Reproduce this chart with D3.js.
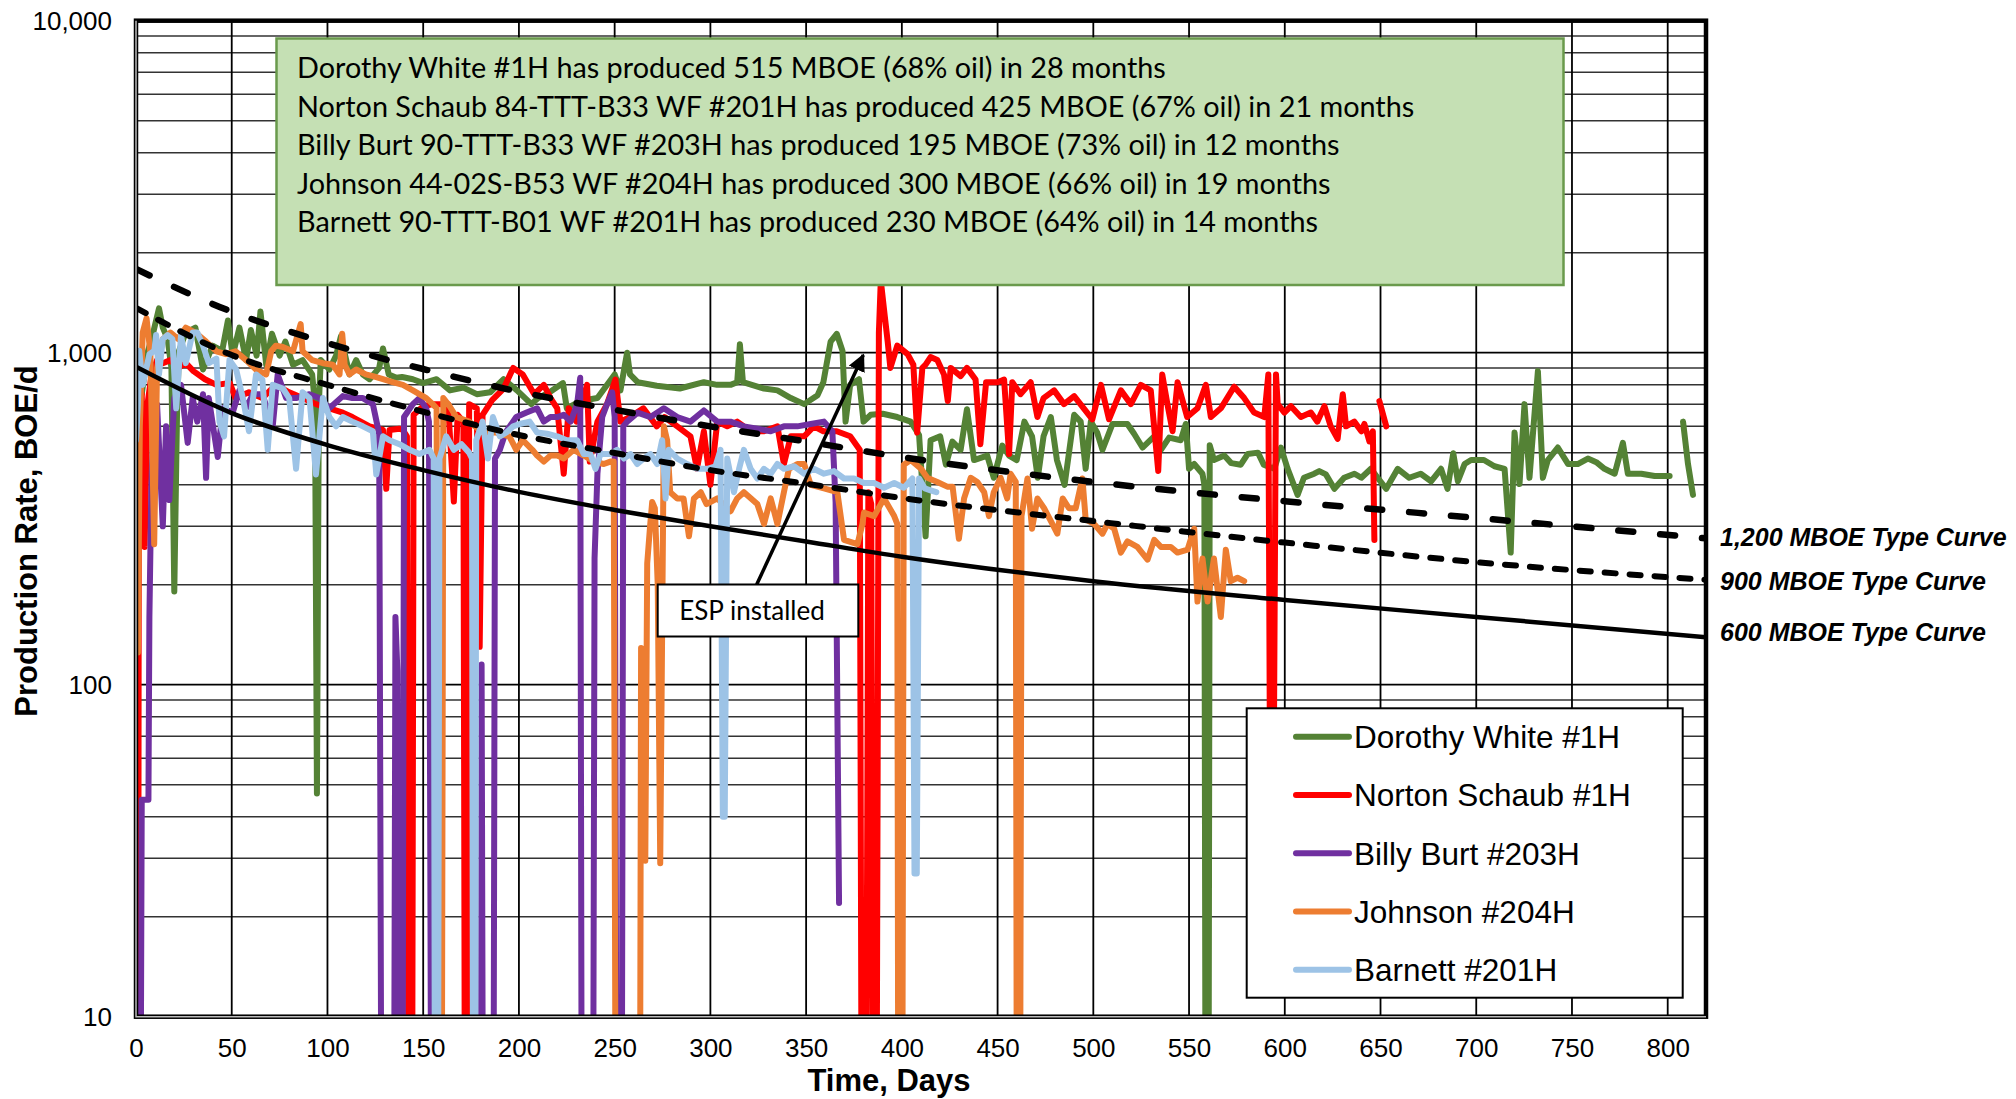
<!DOCTYPE html>
<html>
<head>
<meta charset="utf-8">
<script src="https://cdn.jsdelivr.net/npm/d3@7"></script>
<style>
  body { margin: 0; background: #fff; }
  svg { display: block; }
</style>
</head>
<body>
<svg width="2016" height="1099"></svg>
<script>
// ---- data: [day, BOE/d]; 1 = shut in (below axis), null = gap ----
const dorothyWhite = [[3,750],[6,1000],[9,1150],[12,1360],[14,1190],[16.5,1100],[18.5,900],[20,191],[21.5,700],[22.5,1013],[26,1150],[31,1190],[35,890],[40,1050],[45,1013],[48,1250],[50.5,980],[54,1190],[57.5,950],[60,1170],[63,980],[65,1330],[68,920],[71,1140],[75,980],[78,1080],[82,920],[87,950],[92,860],[93.5,700],[94.5,47],[95.5,700],[96.5,950],[101,890],[104.5,980],[107,1120],[111.5,860],[115,950],[118.5,860],[122,832],[127,900],[129,1030],[132,860],[136,840],[139,845],[144.6,832],[150,810],[157,832],[164,770],[171,785],[178,750],[185,760],[192,832],[199,770],[206.5,700],[210,730],[216,760],[223,810],[225,680],[232,715],[241,730],[250,860],[253,770],[256.5,1000],[258,860],[262,815],[272,795],[284,780],[296.6,815],[303.5,800],[310.5,800],[314,815],[315.4,1060],[317,815],[328,780],[335,770],[342,730],[349,700],[356,745],[359,815],[362.8,1080],[366,1140],[369,1013],[370.6,620],[373,800],[377.6,832],[380,620],[383.7,650],[390,655],[397.6,640],[404.6,620],[409,565],[412.4,280],[415,545],[420,560],[423,460],[426.4,540],[430.7,510],[434,676],[437.7,475],[444.6,490],[448,420],[452.5,525],[456,490],[460,475],[464,620],[468,560],[471,420],[474,560],[477.8,640],[481,475],[485,400],[490,650],[493.4,620],[496,447],[498.7,620],[502,575],[504.8,510],[510,610],[517.8,610],[521.3,570],[525.7,518],[531.8,560],[535.3,510],[539.6,555],[545.7,545],[548.3,610],[550,447],[552.7,462],[557,432],[558,400],[558.8,1],[560,1],[560.8,526],[563,475],[568.4,490],[572,465],[577,460],[580.6,495],[586,500],[589,460],[594.5,447],[598,518],[601.5,447],[606.7,373],[610,420],[615.4,432],[618,440],[621.5,430],[625.9,389],[631,420],[636.4,432],[640,420],[645,447],[648.5,420],[653,389],[659,447],[665,420],[671,432],[676.4,410],[681.6,447],[685,389],[688,498],[690.4,410],[693.9,462],[697.3,475],[704,475],[709.5,455],[714.8,447],[718,250],[720,575],[722.6,402],[725.2,700],[727.8,420],[732.2,880],[734.8,420],[737.4,475],[742.6,518],[748,462],[753,462],[758.3,480],[762.7,468],[767,447],[772.3,432],[776.6,535],[779.2,432],[786.2,432],[793.2,425],[801,425],[804,null],[808,620],[810.6,462],[813.2,373]];

const nortonSchaub = [[0.3,1],[1,1],[1.5,520],[3,750],[4.5,260],[6,700],[8,850],[11,950],[14,930],[18,950],[22,900],[26,930],[30,880],[36,832],[42,800],[49,810],[52,730],[59,760],[66,730],[73,800],[80,760],[87,730],[94,700],[101,680],[108,660],[113,640],[122,600],[129,585],[130.7,389],[132.4,585],[137.6,590],[139.4,585],[141.5,560],[142.5,1],[144,1],[145,650],[150,690],[155,700],[160,700],[163,700],[166,356],[168,650],[171,620],[172,1],[173,1],[174,700],[178,680],[179.5,130],[181,650],[186,720],[192,780],[197,900],[202,860],[208,750],[213,800],[216.5,730],[220,680],[223.4,432],[226,680],[230,620],[235.6,800],[237,470],[241,620],[246,700],[250.4,830],[253,620],[258,640],[265,680],[272,600],[276,640],[282.7,600],[289.6,560],[293,447],[296.6,580],[300,400],[303.6,620],[308.8,600],[314,620],[321,580],[328,580],[335,600],[338.4,462],[342,560],[349,560],[354,600],[359,580],[366,580],[373,560],[378,510],[379.3,1],[381,1],[382.5,380],[384,350],[385.3,1],[386.5,1],[388,1150],[389,1650],[391,1300],[392.6,1080],[394,900],[397.6,1050],[403,990],[406,920],[408,575],[410.7,900],[412.4,920],[415,970],[418.5,950],[422,860],[424,715],[425.5,900],[430.7,850],[434,900],[438.5,830],[441,530],[444,815],[450,815],[453.4,830],[456,495],[457.7,815],[462,750],[467.3,815],[470.8,640],[474,730],[479.5,770],[484.7,700],[490,740],[495,680],[499.5,630],[504,800],[508.2,630],[514.4,770],[519.6,700],[524.8,800],[530,770],[533.9,440],[536,860],[538.7,700],[541.4,580],[544,815],[549,640],[554.4,680],[558.8,800],[561.4,640],[566.6,680],[573.6,790],[578.8,730],[584,660],[589.3,640],[591.4,860],[592.6,20],[593.8,20],[595.4,860],[596.3,700],[599.8,660],[603.2,690],[608.4,640],[613.6,660],[617,620],[620.7,690],[624,600],[627.6,550],[630.3,750],[632,600],[636.3,620],[640,580],[641.6,610],[644.2,540],[646,580],[646.8,273],[648,null],[649.4,715],[653,600]];

const billyBurt = [[2,1],[3,45],[6.5,45],[7,160],[8,390],[9,620],[11,700],[14,300],[15.7,600],[17.4,360],[20,730],[23.5,800],[27,535],[29.6,730],[32,620],[35,750],[36.6,420],[38,730],[42.7,485],[45.3,680],[50.5,660],[54,770],[57.5,680],[61,750],[66,750],[71.4,600],[74,860],[78.4,730],[83.6,730],[90.6,750],[95.8,730],[101,680],[108,740],[113,730],[118.5,730],[123.7,700],[127,570],[128.5,1],[134.5,1],[135.5,160],[136.5,110],[137.5,1],[139,1],[140,640],[144.6,700],[148,730],[151.6,680],[153,620],[154.5,1],[180,1],[180.5,115],[181.5,1],[186.5,1],[187.5,480],[190,509],[193,575],[198.6,640],[204,660],[209.5,680],[213,620],[216.5,640],[220,640],[223.4,650],[227,620],[230.4,700],[232,840],[233,1],[238.5,1],[239.5,240],[241,432],[243.5,640],[246,700],[248.7,760],[250,640],[251.2,1],[253.5,1],[254.5,600],[256.5,620],[262,660],[268.7,640],[275.7,680],[282.7,640],[289.6,620],[296.6,670],[303.6,620],[310.5,620],[317.5,600],[324.5,590],[331.5,580],[338.4,600],[345.4,600],[352.4,610],[359.3,620],[363.7,580],[365.4,355],[367.2,22]];

const johnson = [[0,500],[1,125],[2,600],[3.5,1150],[5.5,1270],[7.5,1000],[9.5,265],[11,900],[14,1100],[18,1150],[22,1100],[26,1190],[31,1150],[36.6,1080],[42,1010],[47,990],[52,1010],[57.5,950],[62.7,890],[68,860],[70.6,1010],[73,1050],[76.7,1040],[82,1010],[86,1220],[87,1010],[92,950],[97.6,930],[102.8,920],[106.3,860],[107.7,1140],[109,920],[111.5,860],[115,890],[120,860],[123.7,850],[129,832],[134,815],[139.4,800],[144.6,770],[148,750],[151.6,730],[155,700],[157,680],[158.3,1],[159.5,1],[160.5,730],[163.8,690],[167.3,640],[174,620],[181,575],[188,575],[195,560],[198.6,510],[202,545],[207,510],[209.5,490],[213,470],[216.5,490],[220,490],[223.4,480],[228.6,510],[233.9,490],[239,470],[244.3,462],[247.8,470],[249.5,470],[250.8,1],[263,1],[263.8,129],[265,60],[266,29.5],[267,232],[268.5,300],[269.6,355],[271,340],[272.5,200],[273.8,29],[275,200],[275.7,600],[277.4,545],[279,380],[282.7,364],[286,364],[288.8,280],[291.4,364],[295,380],[298,350],[303.6,364],[310.5,333],[314,364],[317.5,380],[324.5,350],[328,305],[331.5,364],[335,305],[338.4,380],[341,447],[345.4,462],[349,462],[352.4,400],[359.3,390],[366.3,380],[369.8,273],[376.8,265],[379.4,305],[380.2,330],[385.5,322],[390.7,364],[396,322],[397.6,305],[398.3,1],[400,1],[401,460],[404.6,475],[410,447],[413.3,420],[418.5,408],[423.7,395],[426.5,395],[429.8,275],[432.5,364],[436,420],[439.4,408],[443,380],[445.5,322],[448,380],[451.6,420],[455,364],[456.8,432],[459.5,408],[460.2,1],[461.5,1],[462.5,322],[465.6,418],[468,295],[470.8,364],[474.3,340],[478.6,305],[481.2,285],[484,364],[487.3,340],[490.8,340],[494.3,418],[496,315],[500.4,305],[504.8,285],[507.4,305],[510.9,295],[514.4,250],[517.8,270],[523,260],[528.3,238],[531.8,273],[535.3,260],[540.5,260],[544,250],[549.2,255],[552.7,295],[554.4,178],[557,240],[559.7,178],[563,240],[566.6,160],[569.2,255],[571.8,205],[575.3,210],[578.8,205]];

const barnett = [[0,545],[1,700],[1.7,1013],[3.5,800],[7,990],[9.6,1013],[10.5,1130],[12,860],[14,1100],[16.5,1130],[19,1100],[21,680],[23.5,1130],[26,930],[29.6,1150],[32,1150],[35,1050],[38,930],[42,960],[43.6,620],[46,560],[48.8,950],[52.3,890],[55.8,730],[59,580],[62.7,860],[66,830],[68.8,510],[71.4,800],[76.7,780],[80,730],[83.6,447],[87,760],[90.6,730],[94,430],[97.6,730],[101,640],[104.5,600],[108,640],[113,620],[118.5,600],[123.7,580],[125.5,430],[129,560],[132.4,545],[137.6,530],[142.9,510],[148,495],[153.3,510],[155.5,480],[156.3,1],[157.5,1],[158.5,480],[162,560],[166,510],[170,530],[174,500],[175.5,480],[176.2,1],[177,1],[177.7,545],[181,620],[183.8,480],[186.4,640],[190,560],[193.4,575],[197,600],[200.4,610],[205.6,620],[209.5,575],[214.7,570],[220,560],[225,545],[230.4,545],[233.9,495],[237.4,495],[240,447],[242.6,495],[247.8,495],[251.3,510],[254.8,480],[258.3,495],[261.8,462],[265.2,480],[268.7,495],[272.2,462],[274.8,545],[276.6,364],[278.3,510],[282.7,480],[287.9,462],[293,447],[298.4,447],[302.7,455],[305.3,510],[306.5,40],[307.5,40],[308.8,480],[312.3,380],[315,447],[317.5,510],[321,447],[324.5,418],[328,447],[331.5,432],[335,462],[338.4,447],[343.7,455],[349,432],[354,447],[359.3,432],[364.6,440],[369.8,418],[375,418],[380.2,405],[385.5,405],[390.7,392],[396,405],[401,392],[405.5,418],[406.6,27],[407.8,27],[409,418],[412,390],[415,385],[418,380]];

// type curves
const typeDays = [0, 50, 100, 150, 200, 250, 300, 350, 400, 500, 600, 700, 820];
const tc1200 = [1787, 1329, 1069, 893, 763, 673, 600, 540, 485, 408, 357, 318, 276];
const tc900 = [1364, 984, 800, 664, 565, 499, 443, 403, 365, 311, 268, 234, 207];
const tc600 = [907, 658, 527, 443, 381, 336, 300, 270, 243, 205, 180, 160, 139];

const wellNames = ["Dorothy White #1H", "Norton Schaub #1H", "Billy Burt #203H", "Johnson #204H", "Barnett #201H"];
const wellColors = ["#548235", "#FF0000", "#7030A0", "#ED7D31", "#9DC3E6"];
const typeNames = ["1,200 MBOE Type Curve", "900 MBOE Type Curve", "600 MBOE Type Curve"];
const boxLines = [
  "Dorothy White #1H has produced 515 MBOE (68% oil) in 28 months",
  "Norton Schaub 84-TTT-B33 WF #201H has produced 425 MBOE (67% oil) in 21 months",
  "Billy Burt 90-TTT-B33 WF #203H has produced 195 MBOE (73% oil) in 12 months",
  "Johnson 44-02S-B53 WF #204H has produced 300 MBOE (66% oil) in 19 months",
  "Barnett 90-TTT-B01 WF #201H has produced 230 MBOE (64% oil) in 14 months"
];
const xTicks = d3.range(0, 801, 50);
const yTicks = [10, 100, 1000, 10000];

// ---- layout ----
var svg = d3.select("svg");
var plotL = 136, plotR = 1706, plotT = 20.7, plotB = 1016.7;

var x = d3.scaleLinear().domain([0, 820]).range([plotL, plotR]);
var y = d3.scaleLog().domain([10, 10000]).range([plotB, plotT]);

var defs = svg.append("defs");
defs.append("clipPath").attr("id", "plot")
  .append("rect").attr("x", plotL).attr("y", plotT)
  .attr("width", plotR - plotL).attr("height", plotB - plotT);

defs.append("marker")
  .attr("id", "arrow").attr("viewBox", "0 0 10 10")
  .attr("refX", 9).attr("refY", 5)
  .attr("markerWidth", 5).attr("markerHeight", 5)
  .attr("markerUnits", "strokeWidth")
  .attr("orient", "auto")
  .append("path").attr("d", "M0,0L10,5L0,10z").attr("fill", "#000");

// grid
var minor = [];
[10, 100, 1000].forEach(function (dec) {
  for (var k = 2; k <= 9; k++) minor.push(k * dec);
});
var grid = svg.append("g");
grid.selectAll(".hmin").data(minor).enter().append("line")
  .attr("x1", plotL).attr("x2", plotR)
  .attr("y1", d => y(d)).attr("y2", d => y(d))
  .attr("stroke", "#333").attr("stroke-width", 1.5);
grid.selectAll(".hmaj").data(yTicks).enter().append("line")
  .attr("x1", plotL).attr("x2", plotR)
  .attr("y1", d => y(d)).attr("y2", d => y(d))
  .attr("stroke", "#000").attr("stroke-width", 1.8);
grid.selectAll(".v").data(xTicks).enter().append("line")
  .attr("x1", d => x(d)).attr("x2", d => x(d))
  .attr("y1", plotT).attr("y2", plotB)
  .attr("stroke", "#000").attr("stroke-width", 1.8);

// wells
var wells = [dorothyWhite, nortonSchaub, billyBurt, johnson, barnett];
var line = d3.line()
  .defined(d => d[1] != null)
  .x(d => x(d[0]))
  .y(d => y(Math.max(d[1], 0.5)));

svg.append("g").attr("clip-path", "url(#plot)")
  .selectAll("path").data(wells).enter().append("path")
  .attr("d", line)
  .attr("fill", "none")
  .attr("stroke", (d, i) => wellColors[i])
  .attr("stroke-width", 6)
  .attr("stroke-linejoin", "round")
  .attr("stroke-linecap", "round");

// type curves
var tcLine = d3.line().curve(d3.curveMonotoneX)
  .x((d, i) => x(typeDays[i]))
  .y(d => y(d));
var tcStyle = [
  { dash: "15,27", w: 6.5 },
  { dash: "11,14", w: 6 },
  { dash: null, w: 4.5 }
];
svg.append("g").attr("clip-path", "url(#plot)")
  .selectAll("path").data([tc1200, tc900, tc600]).enter().append("path")
  .attr("d", tcLine)
  .attr("fill", "none")
  .attr("stroke", "#000")
  .attr("stroke-width", (d, i) => tcStyle[i].w)
  .attr("stroke-linecap", (d, i) => tcStyle[i].dash ? "round" : "butt")
  .attr("stroke-dasharray", (d, i) => tcStyle[i].dash);

// plot frame
svg.append("rect")
  .attr("x", plotL).attr("y", plotT)
  .attr("width", plotR - plotL).attr("height", plotB - plotT)
  .attr("fill", "none").attr("stroke", "#000").attr("stroke-width", 4.5);
svg.append("path")
  .attr("d", "M" + plotL + "," + plotT + "V" + plotB + "H" + plotR)
  .attr("fill", "none").attr("stroke", "#bbb").attr("stroke-width", 1.5);

// axes (labels only)
var yAxis = svg.append("g").attr("transform", "translate(" + plotL + ",0)")
  .call(d3.axisLeft(y).tickValues(yTicks).tickFormat(d3.format(",")).tickSize(0).tickPadding(24));
var xAxis = svg.append("g").attr("transform", "translate(0," + plotB + ")")
  .call(d3.axisBottom(x).tickValues(xTicks).tickSize(0).tickPadding(22));
[yAxis, xAxis].forEach(function (a) {
  a.select(".domain").remove();
  a.selectAll("text").attr("font-family", "'Liberation Sans', Arial, sans-serif")
    .attr("font-size", 26).attr("fill", "#000");
});

svg.append("text")
  .attr("x", 889).attr("y", 1091)
  .attr("text-anchor", "middle")
  .attr("font-family", "'Liberation Sans', Arial, sans-serif")
  .attr("font-size", 31).attr("font-weight", "bold")
  .text("Time, Days");
svg.append("text")
  .attr("transform", "translate(37,541) rotate(-90)")
  .attr("text-anchor", "middle")
  .attr("font-family", "'Liberation Sans', Arial, sans-serif")
  .attr("font-size", 31).attr("font-weight", "bold")
  .text("Production Rate, BOE/d");

// type curve labels
var tcLabelY = [546, 590, 641];
svg.selectAll(".tclab").data(typeNames).enter().append("text")
  .attr("x", 1720).attr("y", (d, i) => tcLabelY[i])
  .attr("font-family", "'Liberation Sans', Arial, sans-serif")
  .attr("font-size", 25).attr("font-weight", "bold").attr("font-style", "italic")
  .text(d => d);

// summary box
svg.append("rect")
  .attr("x", 276.5).attr("y", 38.5).attr("width", 1287).attr("height", 246.5)
  .attr("fill", "#C5E0B4").attr("stroke", "#6A9A4C").attr("stroke-width", 2.5);
svg.selectAll(".boxline").data(boxLines).enter().append("text")
  .attr("x", 297).attr("y", (d, i) => 68 + i * 38.6)
  .attr("dy", "0.35em")
  .attr("font-family", "Lato, 'Open Sans', sans-serif")
  .attr("font-size", 28.8).attr("fill", "#000")
  .text(d => d);

// ESP annotation
svg.append("line")
  .attr("x1", 756.7).attr("y1", 584.5)
  .attr("x2", 863.3).attr("y2", 355)
  .attr("stroke", "#000").attr("stroke-width", 3.5)
  .attr("marker-end", "url(#arrow)");
svg.append("rect")
  .attr("x", 657.7).attr("y", 584.5).attr("width", 200.6).attr("height", 52)
  .attr("fill", "#fff").attr("stroke", "#000").attr("stroke-width", 2);
svg.append("text")
  .attr("x", 752).attr("y", 611).attr("dy", "0.35em")
  .attr("text-anchor", "middle")
  .attr("font-family", "Lato, 'Open Sans', sans-serif")
  .attr("font-size", 26)
  .text("ESP installed");

// legend
var legend = svg.append("g");
legend.append("rect")
  .attr("x", 1246.7).attr("y", 708.3).attr("width", 436).attr("height", 289.4)
  .attr("fill", "#fff").attr("stroke", "#000").attr("stroke-width", 2);
var items = legend.selectAll(".item").data(wellNames).enter().append("g")
  .attr("transform", (d, i) => "translate(0," + (736.7 + i * 58.25) + ")");
items.append("line")
  .attr("x1", 1296).attr("x2", 1349)
  .attr("stroke", (d, i) => wellColors[i])
  .attr("stroke-width", 6).attr("stroke-linecap", "round");
items.append("text")
  .attr("x", 1354).attr("dy", "0.36em")
  .attr("font-family", "'Liberation Sans', Arial, sans-serif")
  .attr("font-size", 31.5)
  .text(d => d);
</script>
</body>
</html>
